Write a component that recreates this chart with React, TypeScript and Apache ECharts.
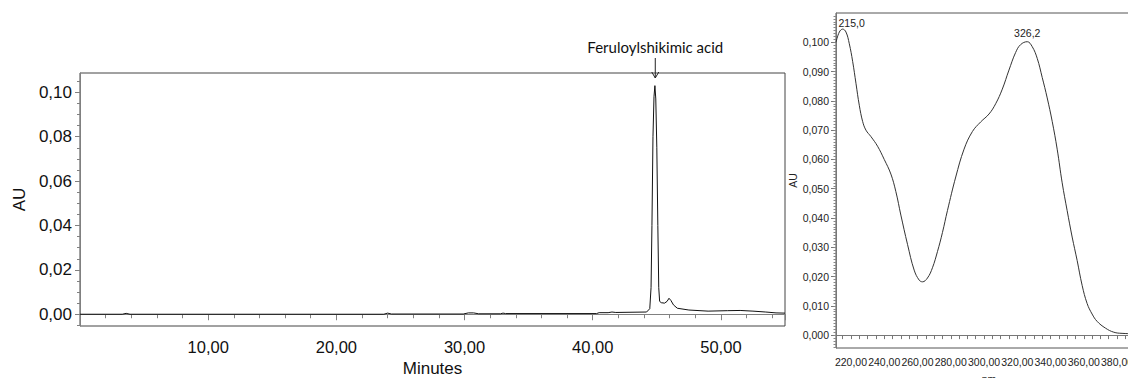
import React, { useEffect, useRef } from "react";
import * as echarts from "echarts";

// Chromatogram (left)
const chromTime = [0, 3.3, 3.6, 3.9, 23.7, 24.0, 24.3, 29.9, 30.3, 30.7, 31.1, 32.8, 33.0, 33.2, 40.3, 40.5, 41.2, 41.5, 41.8, 44.2, 44.45, 44.55, 44.62, 44.7, 44.78, 44.85, 44.92, 45.0, 45.08, 45.15, 45.22, 45.35, 45.6, 45.8, 45.95, 46.1, 46.3, 46.6, 47.5, 49.0, 50.5, 51.5, 52.5, 53.5, 54.3, 55.0];
const chromAU = [0, 0, 0.0004, 0, 0, 0.0005, 0.0001, 0.0001, 0.0006, 0.0006, 0.0002, 0.0002, 0.0005, 0.0003, 0.0003, 0.0007, 0.0007, 0.001, 0.0008, 0.001, 0.0025, 0.012, 0.04, 0.08, 0.098, 0.103, 0.097, 0.075, 0.04, 0.012, 0.0058, 0.0052, 0.005, 0.0058, 0.0072, 0.0062, 0.0042, 0.0027, 0.0019, 0.0014, 0.0016, 0.0017, 0.0014, 0.001, 0.0006, 0.0005];
const chromXLabels = [10, 20, 30, 40, 50];
const chromYLabels = [0, 0.02, 0.04, 0.06, 0.08, 0.1];
const peakName = "Feruloylshikimic acid";
const peakTime = 44.88;

// UV spectrum (right)
const uvNm = [211, 213, 215, 217, 219, 221, 223, 225, 227, 229, 232, 236, 240, 244, 247, 250, 254, 258, 261, 263, 266, 269, 272, 275, 278, 283, 288, 293, 298, 303, 307, 311, 315, 319, 322, 326, 329, 332, 335, 338, 341, 344, 347, 350, 353, 356, 359, 362, 365, 368, 373, 378, 383, 390, 395];
const uvAU = [0.1, 0.1035, 0.1045, 0.1035, 0.0995, 0.0935, 0.086, 0.0785, 0.073, 0.07, 0.0678, 0.0645, 0.06, 0.055, 0.049, 0.041, 0.031, 0.0222, 0.0188, 0.0182, 0.0195, 0.023, 0.0285, 0.035, 0.0425, 0.054, 0.0635, 0.0695, 0.0728, 0.0755, 0.079, 0.084, 0.0905, 0.0965, 0.0992, 0.1002, 0.0985, 0.0945, 0.088, 0.081, 0.073, 0.0635, 0.052, 0.0425, 0.0335, 0.0255, 0.017, 0.0108, 0.0072, 0.0047, 0.0024, 0.001, 0.0006, 0.0005, 0.0005];
const uvXLabels = [220, 240, 260, 280, 300, 320, 340, 360, 380];
const uvYLabels = [0, 0.01, 0.02, 0.03, 0.04, 0.05, 0.06, 0.07, 0.08, 0.09, 0.1];
const uvPeaks = [
  { nm: 215, au: 0.1045, label: "215,0" },
  { nm: 326, au: 0.1002, label: "326,2" },
];

const range = (a: number, b: number, s: number) => {
  const out: number[] = [];
  for (let v = a; v <= b + 1e-9; v += s) out.push(Math.round(v * 10000) / 10000);
  return out;
};

const FONT = "Liberation Sans, Arial, sans-serif";

export default function App() {
  const ref = useRef<HTMLDivElement>(null);
  useEffect(() => {
    if (!ref.current) return;
    const chart = echarts.init(ref.current, null, { renderer: "svg" });
    const fmt2 = (v: number) => v.toFixed(2).replace(".", ",");
    const fmt3 = (v: number) => v.toFixed(3).replace(".", ",");
    chart.setOption({
      animation: false,
      backgroundColor: "#fff",
      grid: [
        { left: 80, top: 73, right: 343, bottom: 52, show: true, borderColor: "#444", borderWidth: 1, outerBoundsMode: "none", containLabel: false },
        { left: 836, top: 13, width: 306, bottom: 30, show: true, borderColor: "#555", borderWidth: 1, outerBoundsMode: "none", containLabel: false },
      ],
      xAxis: [
        {
          gridIndex: 0, type: "value", min: 0, max: 55, interval: 10,
          name: "Minutes", nameLocation: "middle", nameGap: 34,
          nameTextStyle: { fontFamily: FONT, fontSize: 17, color: "#111", lineHeight: 17 },
          axisLine: { lineStyle: { color: "#808080" } },
          axisTick: { length: 6, lineStyle: { color: "#808080" } },
          minorTick: { show: true, splitNumber: 5, length: 4, lineStyle: { color: "#808080" } },
          splitLine: { show: false },
          axisLabel: { fontFamily: FONT, fontSize: 16.5, color: "#111", margin: 12, customValues: chromXLabels, formatter: (v: number) => fmt2(v) },
        },
        {
          gridIndex: 1, type: "value", min: 211, max: 395,
          name: "nm", nameLocation: "middle", nameGap: 25,
          nameTextStyle: { fontFamily: FONT, fontSize: 10.5, color: "#222" },
          axisLine: { lineStyle: { color: "#777" } },
          axisTick: { length: 4, lineStyle: { color: "#777" }, customValues: range(215, 395, 5) },
          splitLine: { show: false },
          axisLabel: { fontFamily: FONT, fontSize: 10.5, color: "#222", margin: 8, showMinLabel: true, showMaxLabel: true, hideOverlap: false, customValues: uvXLabels, formatter: (v: number) => fmt2(v) },
        },
      ],
      yAxis: [
        {
          gridIndex: 0, type: "value", min: -0.0053, max: 0.1087, position: "left",
          name: "AU", nameLocation: "middle", nameGap: 51,
          nameTextStyle: { fontFamily: FONT, fontSize: 17, color: "#111" },
          axisLine: { show: true, lineStyle: { color: "#808080" } },
          axisTick: { show: true, length: 5, lineStyle: { color: "#808080" }, customValues: chromYLabels },
          splitLine: { show: false },
          axisLabel: { fontFamily: FONT, fontSize: 17, color: "#111", margin: 8, customValues: chromYLabels, formatter: (v: number) => fmt2(v) },
        },
        {
          gridIndex: 0, type: "value", min: -0.0053, max: 0.1087, position: "left",
          axisLine: { show: false },
          axisTick: { show: true, length: 3, lineStyle: { color: "#808080" }, customValues: range(-0.005, 0.105, 0.005) },
          splitLine: { show: false },
          axisLabel: { show: false },
        },
        {
          gridIndex: 1, type: "value", min: -0.0044, max: 0.11, position: "left",
          name: "AU", nameLocation: "middle", nameGap: 36,
          nameTextStyle: { fontFamily: FONT, fontSize: 10.5, color: "#222" },
          axisLine: { show: true, lineStyle: { color: "#777" } },
          axisTick: { show: true, length: 5, lineStyle: { color: "#777" }, customValues: uvYLabels },
          splitLine: { show: false },
          axisLabel: { fontFamily: FONT, fontSize: 10.5, color: "#222", margin: 7, customValues: uvYLabels, formatter: (v: number) => fmt3(v) },
        },
        {
          gridIndex: 1, type: "value", min: -0.0044, max: 0.11, position: "left",
          axisLine: { show: false },
          axisTick: { show: true, length: 2.5, lineStyle: { color: "#888" }, customValues: range(-0.004, 0.109, 0.001) },
          splitLine: { show: false },
          axisLabel: { show: false },
        },
      ],
      series: [
        {
          type: "line", xAxisIndex: 0, yAxisIndex: 0, showSymbol: false,
          lineStyle: { color: "#111", width: 1 },
          data: chromTime.map((t, i) => [t, chromAU[i]]),
        },
        {
          type: "line", xAxisIndex: 1, yAxisIndex: 2, showSymbol: false, smooth: 0.4,
          lineStyle: { color: "#333", width: 1 },
          data: uvNm.map((n, i) => [n, uvAU[i]]),
          markPoint: {
            symbol: "circle", symbolSize: 0,
            data: uvPeaks.map((p, i) => ({
              coord: [p.nm, p.au], value: p.label,
              label: {
                show: true, position: "top", formatter: p.label,
                distance: i === 0 ? 1 : 3, offset: i === 0 ? [9, 0] : [0, 0],
                fontFamily: FONT, fontSize: 10.5, color: "#222",
              },
            })),
          },
        },
      ],
    });
    const px = chart.convertToPixel({ xAxisIndex: 0, yAxisIndex: 0 }, [peakTime, 0]) as number[];
    const x = px[0];
    chart.setOption({
      graphic: [
        { type: "text", x, y: 47, style: { text: peakName, fontFamily: "Lato, sans-serif", fontSize: 15, fill: "#111", align: "center", verticalAlign: "middle" } },
        { type: "line", shape: { x1: x, y1: 58, x2: x, y2: 78 }, style: { stroke: "#222", lineWidth: 1 } },
        { type: "polyline", shape: { points: [[x - 3.5, 72], [x, 78], [x + 3.5, 72]] }, style: { stroke: "#222", lineWidth: 1, fill: null } },
      ],
    });
    return () => chart.dispose();
  }, []);
  return <div ref={ref} style={{ position: "fixed", left: 0, top: 0, width: 1128, height: 378, background: "#fff" }} />;
}
